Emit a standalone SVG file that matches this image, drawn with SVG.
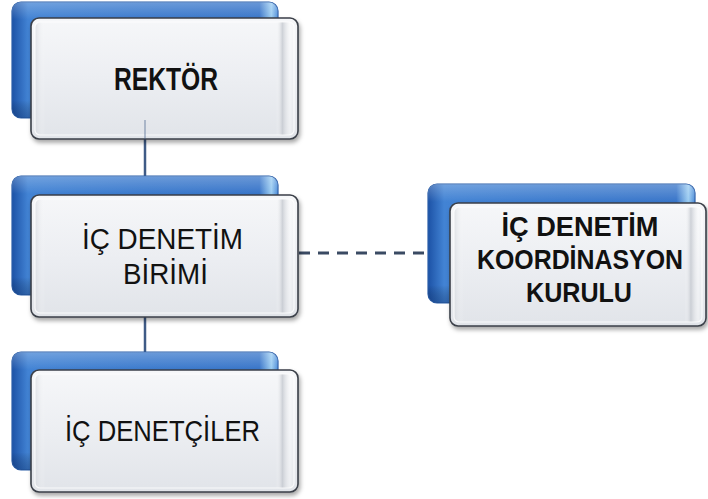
<svg xmlns="http://www.w3.org/2000/svg" width="708" height="499" viewBox="0 0 708 499">
<defs>
<linearGradient id="blueH" x1="0" y1="0" x2="1" y2="0">
<stop offset="0" stop-color="#1c52a6"/>
<stop offset="0.06" stop-color="#4283d4"/>
<stop offset="0.5" stop-color="#3b7acd"/>
<stop offset="0.93" stop-color="#3875c9"/>
<stop offset="0.975" stop-color="#9ccdf2"/>
<stop offset="1" stop-color="#4b8bd8"/>
</linearGradient>
<linearGradient id="blueV" x1="0" y1="0" x2="0" y2="1">
<stop offset="0" stop-color="#ffffff" stop-opacity="0.25"/>
<stop offset="0.15" stop-color="#ffffff" stop-opacity="0"/>
<stop offset="0.85" stop-color="#000000" stop-opacity="0"/>
<stop offset="1" stop-color="#0a2a60" stop-opacity="0.35"/>
</linearGradient>
<linearGradient id="front" x1="0" y1="0" x2="0" y2="1">
<stop offset="0" stop-color="#f6f7f9"/>
<stop offset="0.5" stop-color="#eceef2"/>
<stop offset="1" stop-color="#e1e4e9"/>
</linearGradient>
<linearGradient id="bevel" x1="0" y1="0" x2="1" y2="0">
<stop offset="0" stop-color="#d0d4da" stop-opacity="0.6"/>
<stop offset="0.04" stop-color="#ffffff" stop-opacity="0"/>
<stop offset="0.93" stop-color="#ffffff" stop-opacity="0"/>
<stop offset="0.955" stop-color="#c4c8cf" stop-opacity="0.8"/>
<stop offset="0.985" stop-color="#ffffff" stop-opacity="0.4"/>
<stop offset="1" stop-color="#ffffff" stop-opacity="0"/>
</linearGradient>
<filter id="shadow" x="-10%" y="-10%" width="120%" height="130%">
<feDropShadow dx="1.5" dy="3" stdDeviation="2" flood-color="#000" flood-opacity="0.35"/>
</filter>
</defs>
<style>
.back{fill:url(#blueH);stroke:#2b5ea8;stroke-width:1.2}
.backv{fill:url(#blueV)}
.frontbox{fill:url(#front);stroke:#3a3f48;stroke-width:1.6;filter:url(#shadow)}
.bev{fill:url(#bevel);stroke:#ffffff;stroke-opacity:0.8;stroke-width:1.2}
.t{font-family:"Liberation Sans",Arial,sans-serif;font-size:30px;fill:#111;text-anchor:middle}
.b{font-weight:bold;font-size:31px}
.k{font-weight:bold;font-size:28px}
.conn{stroke:#3f5b86;stroke-width:2.5;fill:none}
.dash{stroke:#3a4a63;stroke-width:2.8;fill:none;stroke-dasharray:11 8}
</style>
<g id="connectors">
<line class="conn" x1="145" y1="139" x2="145" y2="177"/>
<line class="conn" x1="145" y1="317" x2="145" y2="353"/>
<line class="dash" x1="299" y1="253" x2="428" y2="253"/>
</g>
<g id="rektor">
<rect class="back" x="12" y="2" width="266" height="116" rx="9"/>
<rect class="backv" x="12" y="2" width="266" height="116" rx="9"/>
<rect class="frontbox" x="31" y="18" width="267" height="121" rx="8"/>
<rect class="bev" x="35" y="22" width="259" height="113" rx="5"/>
<line x1="145" y1="120" x2="145" y2="139" stroke="#3f5b86" stroke-opacity="0.35" stroke-width="2"/>
<text class="t b" x="166" y="90" textLength="104" lengthAdjust="spacingAndGlyphs">REKTÖR</text>
</g>
<g id="ic-denetim-birimi">
<rect class="back" x="12" y="176" width="266" height="119" rx="9"/>
<rect class="backv" x="12" y="176" width="266" height="119" rx="9"/>
<rect class="frontbox" x="31" y="195" width="267" height="122" rx="8"/>
<rect class="bev" x="35" y="199" width="259" height="114" rx="5"/>
<text class="t" x="162.5" y="249" textLength="161" lengthAdjust="spacingAndGlyphs">İÇ DENETİM</text>
<text class="t" x="165.5" y="284" textLength="85" lengthAdjust="spacingAndGlyphs">BİRİMİ</text>
</g>
<g id="ic-denetciler">
<rect class="back" x="12" y="352" width="266" height="118" rx="9"/>
<rect class="backv" x="12" y="352" width="266" height="118" rx="9"/>
<rect class="frontbox" x="31" y="370" width="267" height="122" rx="8"/>
<rect class="bev" x="35" y="374" width="259" height="114" rx="5"/>
<text class="t" x="162.5" y="441" textLength="195" lengthAdjust="spacingAndGlyphs">İÇ DENETÇİLER</text>
</g>
<g id="koordinasyon-kurulu">
<rect class="back" x="428" y="184" width="267" height="119" rx="9"/>
<rect class="backv" x="428" y="184" width="267" height="119" rx="9"/>
<rect class="frontbox" x="450" y="203" width="256" height="123" rx="8"/>
<rect class="bev" x="454" y="207" width="248" height="115" rx="5"/>
<text class="t k" x="580" y="236" textLength="157" lengthAdjust="spacingAndGlyphs">İÇ DENETİM</text>
<text class="t k" x="580" y="269" textLength="206" lengthAdjust="spacingAndGlyphs">KOORDİNASYON</text>
<text class="t k" x="579" y="302" textLength="106" lengthAdjust="spacingAndGlyphs">KURULU</text>
</g>
</svg>
